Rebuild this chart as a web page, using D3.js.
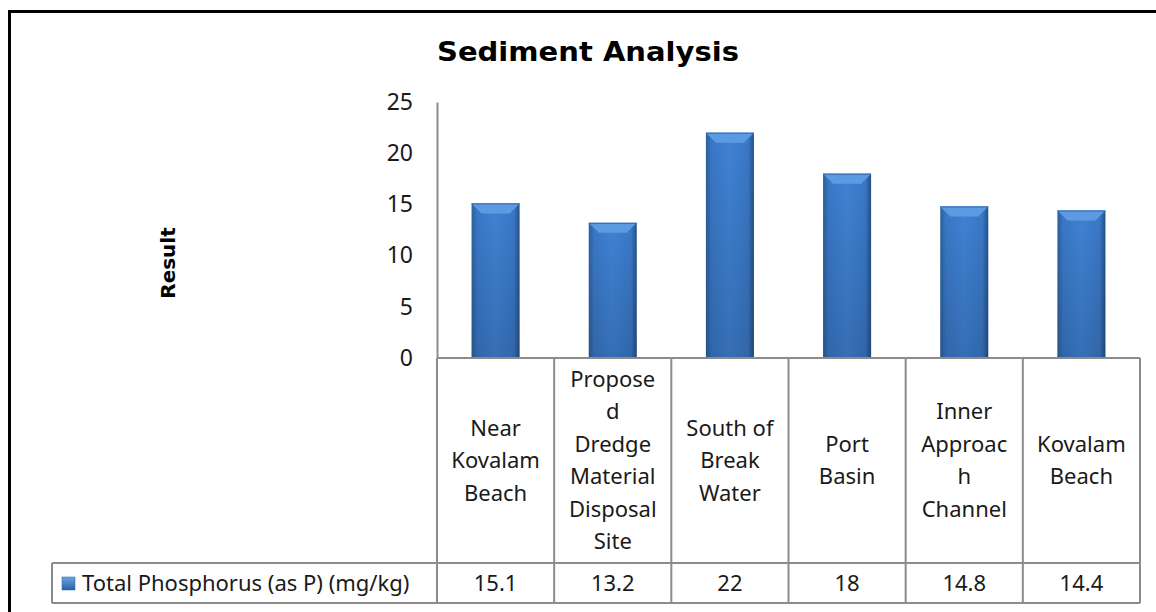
<!DOCTYPE html>
<html>
<head>
<meta charset="utf-8">
<script src="https://cdn.jsdelivr.net/npm/d3@7"></script>
<style>
  body { margin: 0; background: #fff; }
  svg { display: block; }
</style>
</head>
<body>
<div id="chart"></div>
<script>
// category labels, line breaks as in the original table
const categories = [
  ["Near", "Kovalam", "Beach"],
  ["Propose", "d", "Dredge", "Material", "Disposal", "Site"],
  ["South of", "Break", "Water"],
  ["Port", "Basin"],
  ["Inner", "Approac", "h", "Channel"],
  ["Kovalam", "Beach"]
];
const values = [15.1, 13.2, 22, 18, 14.8, 14.4];
const valueLabels = ["15.1", "13.2", "22", "18", "14.8", "14.4"];
const yTicks = [0, 5, 10, 15, 20, 25];
const seriesName = "Total Phosphorus (as P) (mg/kg)";

const width = 1156, height = 612;
const plot = { left: 437, right: 1140, top: 102, bottom: 358 };
const catBottom = 563, valBottom = 603, legendLeft = 52;
const font = "'Noto Sans', 'Open Sans', sans-serif";
const gridColor = "#8c8c8c";
const textColor = "#1a1a1a";

const svg = d3.select("#chart").append("svg")
  .attr("width", width).attr("height", height);

const defs = svg.append("defs");
const grad = defs.append("linearGradient").attr("id", "barGrad")
  .attr("x1", "0").attr("x2", "1").attr("y1", "0").attr("y2", "0");
grad.append("stop").attr("offset", "0%").attr("stop-color", "#2d5f9f");
grad.append("stop").attr("offset", "12%").attr("stop-color", "#3a78c6");
grad.append("stop").attr("offset", "50%").attr("stop-color", "#3f82d4");
grad.append("stop").attr("offset", "88%").attr("stop-color", "#3a78c6");
grad.append("stop").attr("offset", "100%").attr("stop-color", "#24508a");
const vgrad = defs.append("linearGradient").attr("id", "shade")
  .attr("x1", "0").attr("x2", "0").attr("y1", "0").attr("y2", "1");
vgrad.append("stop").attr("offset", "0%").attr("stop-color", "#000").attr("stop-opacity", 0);
vgrad.append("stop").attr("offset", "100%").attr("stop-color", "#000").attr("stop-opacity", 0.15);
const legGrad = defs.append("linearGradient").attr("id", "legGrad")
  .attr("x1", "0").attr("x2", "0").attr("y1", "0").attr("y2", "1");
legGrad.append("stop").attr("offset", "0%").attr("stop-color", "#6aa6e6");
legGrad.append("stop").attr("offset", "100%").attr("stop-color", "#2a5ea8");

// outer frame
svg.append("rect")
  .attr("x", 9.5).attr("y", 11.5).attr("width", 1170).attr("height", 640)
  .attr("fill", "none").attr("stroke", "#000").attr("stroke-width", 3);

// title
svg.append("text")
  .attr("x", 588).attr("y", 61)
  .attr("text-anchor", "middle")
  .attr("font-family", "'DejaVu Sans', Verdana, sans-serif")
  .attr("font-weight", "bold")
  .attr("font-size", 27)
  .attr("textLength", 302).attr("lengthAdjust", "spacingAndGlyphs")
  .attr("fill", "#000")
  .text("Sediment Analysis");

// y axis title
svg.append("text")
  .attr("transform", "translate(175,263) rotate(-90)")
  .attr("text-anchor", "middle")
  .attr("font-family", "'DejaVu Sans', Verdana, sans-serif")
  .attr("font-weight", "bold")
  .attr("font-size", 20)
  .attr("fill", "#000")
  .text("Result");

const x = d3.scaleBand()
  .domain(d3.range(categories.length))
  .range([plot.left, plot.right])
  .paddingInner(0).paddingOuter(0);

const y = d3.scaleLinear()
  .domain([0, 25])
  .range([plot.bottom, plot.top]);

// y axis
const yAxis = svg.append("g")
  .attr("transform", `translate(${plot.left},0)`)
  .call(d3.axisLeft(y).tickValues(yTicks).tickSize(0).tickPadding(24));
yAxis.select(".domain").attr("stroke", gridColor).attr("stroke-width", 2);
yAxis.selectAll("text")
  .attr("font-family", font).attr("font-size", 23).attr("fill", textColor);

// bars
const barW = x.bandwidth() * 0.41;
const bars = svg.append("g").selectAll("g.bar").data(values).enter()
  .append("g").attr("class", "bar");
bars.append("rect")
  .attr("x", (d, i) => x(i) + (x.bandwidth() - barW) / 2)
  .attr("y", d => y(d))
  .attr("width", barW)
  .attr("height", d => y(0) - y(d))
  .attr("fill", "url(#barGrad)");
bars.append("rect")
  .attr("x", (d, i) => x(i) + (x.bandwidth() - barW) / 2)
  .attr("y", d => y(d))
  .attr("width", barW)
  .attr("height", d => y(0) - y(d))
  .attr("fill", "url(#shade)");
// top bevel
bars.append("polygon")
  .attr("points", (d, i) => {
    const x0 = x(i) + (x.bandwidth() - barW) / 2, x1 = x0 + barW, t = y(d), b = 10;
    return `${x0},${t} ${x1},${t} ${x1 - b},${t + b} ${x0 + b},${t + b}`;
  })
  .attr("fill", "#5c9be2");
bars.append("line")
  .attr("x1", (d, i) => x(i) + (x.bandwidth() - barW) / 2)
  .attr("x2", (d, i) => x(i) + (x.bandwidth() + barW) / 2)
  .attr("y1", d => y(d) + 0.5).attr("y2", d => y(d) + 0.5)
  .attr("stroke", "#2f6ab4").attr("stroke-width", 1);

// data table grid
const grid = svg.append("g").attr("stroke", gridColor).attr("stroke-width", 2).attr("fill", "none");
grid.append("line").attr("x1", plot.left).attr("x2", plot.right).attr("y1", plot.bottom).attr("y2", plot.bottom);
grid.append("line").attr("x1", legendLeft).attr("x2", plot.right).attr("y1", catBottom).attr("y2", catBottom);
grid.append("line").attr("x1", legendLeft).attr("x2", plot.right).attr("y1", valBottom).attr("y2", valBottom);
grid.append("line").attr("x1", legendLeft).attr("x2", legendLeft).attr("y1", catBottom).attr("y2", valBottom);
grid.selectAll("line.v").data(d3.range(categories.length + 1)).enter()
  .append("line").attr("class", "v")
  .attr("x1", i => i < categories.length ? x(i) : plot.right)
  .attr("x2", i => i < categories.length ? x(i) : plot.right)
  .attr("y1", plot.bottom).attr("y2", valBottom);

// category labels
const lineH = 32.5;
const catMid = (plot.bottom + catBottom) / 2;
svg.append("g").selectAll("text").data(categories).enter()
  .append("text")
  .attr("font-family", font).attr("font-size", 22).attr("fill", textColor)
  .attr("text-anchor", "middle")
  .each(function (lines, i) {
    const t = d3.select(this);
    const start = catMid - (lines.length - 1) * lineH / 2;
    lines.forEach((ln, k) => {
      t.append("tspan")
        .attr("x", x(i) + x.bandwidth() / 2)
        .attr("y", start + k * lineH)
        .attr("dy", "0.35em")
        .text(ln);
    });
  });

// value row
const valMid = (catBottom + valBottom) / 2;
svg.append("g").selectAll("text").data(valueLabels).enter()
  .append("text")
  .attr("x", (d, i) => x(i) + x.bandwidth() / 2)
  .attr("y", valMid).attr("dy", "0.35em")
  .attr("text-anchor", "middle")
  .attr("font-family", font).attr("font-size", 22).attr("fill", textColor)
  .text(d => d);

// legend key + series name
svg.append("rect")
  .attr("x", 62).attr("y", valMid - 6).attr("width", 13).attr("height", 13)
  .attr("fill", "url(#legGrad)").attr("stroke", "#2a5ea8").attr("stroke-width", 0.5);
svg.append("text")
  .attr("x", 82).attr("y", valMid).attr("dy", "0.35em")
  .attr("font-family", font).attr("font-size", 22).attr("fill", textColor)
  .text(seriesName);
</script>
</body>
</html>
